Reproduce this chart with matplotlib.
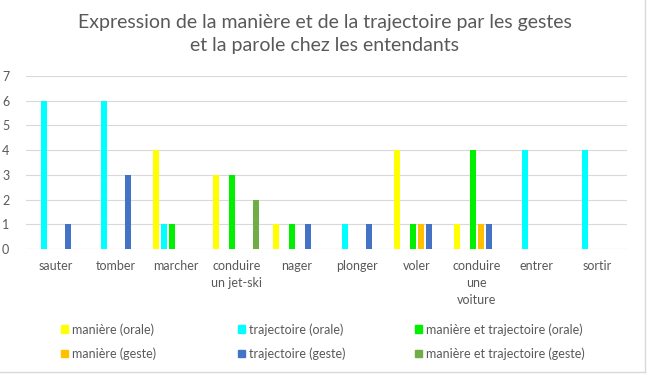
import matplotlib
matplotlib.use("Agg")
import matplotlib.pyplot as plt
from matplotlib.patches import Patch
from matplotlib.lines import Line2D
import numpy as np

plt.rcParams['font.family'] = ['Lato', 'DejaVu Sans']

# Données
categories = ["sauter", "tomber", "marcher", "conduire\nun jet-ski", "nager",
              "plonger", "voler", "conduire\nune\nvoiture", "entrer", "sortir"]
series_names = ["manière (orale)", "trajectoire (orale)",
                "manière et trajectoire (orale)", "manière (geste)",
                "trajectoire (geste)", "manière et trajectoire (geste)"]
maniere_orale = [0, 0, 4, 3, 1, 0, 4, 1, 0, 0]
trajectoire_orale = [6, 6, 1, 0, 0, 1, 0, 0, 4, 4]
mt_orale = [0, 0, 1, 3, 1, 0, 1, 4, 0, 0]
maniere_geste = [0, 0, 0, 0, 0, 0, 1, 1, 0, 0]
trajectoire_geste = [1, 3, 0, 0, 1, 1, 1, 1, 0, 0]
mt_geste = [0, 0, 0, 2, 0, 0, 0, 0, 0, 0]
colors = ["#FFFF00", "#00FFFF", "#00F000", "#FFC000", "#4472C4", "#70AD47"]

all_series = [maniere_orale, trajectoire_orale, mt_orale,
              maniere_geste, trajectoire_geste, mt_geste]

fig = plt.figure(figsize=(6.49, 3.75), dpi=100)
ax = fig.add_axes([26 / 649, 126 / 375, 601 / 649, 173 / 375])

x = np.arange(len(categories))
slot = 8 / 60
for i, (vals, c) in enumerate(zip(all_series, colors)):
    ax.bar(x + (i - 2.5) * slot, vals, width=6 / 60, color=c, zorder=3)

ax.set_xlim(-0.5, len(categories) - 0.5)
ax.set_ylim(0, 7)
ax.set_yticks(range(8))
ax.grid(axis="y", color="#D9D9D9", linewidth=0.8, zorder=0)
for s in ax.spines.values():
    s.set_visible(False)
ax.axhline(0, color="#D9D9D9", linewidth=0.8, zorder=1)
ax.set_xticks(x)
ax.set_xticklabels(categories, fontsize=9, color="#595959", linespacing=1.5, va="top")
ax.tick_params(axis="both", length=0, labelsize=9, labelcolor="#595959")
ax.tick_params(axis="x", pad=8)
ax.tick_params(axis="y", pad=12)

fig.text(0.5, 1 - 34 / 375, "Expression de la manière et de la trajectoire par les gestes\net la parole chez les entendants",
         ha="center", va="center", fontsize=14, color="#595959", linespacing=1.4)

# légende en trois colonnes
col_x = [61, 238, 415]
for k in range(3):
    handles = [Patch(color=colors[k]), Patch(color=colors[k + 3])]
    labels = [series_names[k], series_names[k + 3]]
    fig.legend(handles, labels, loc="upper left",
               bbox_to_anchor=(col_x[k] / 649, 1 - 323 / 375),
               frameon=False, fontsize=9, labelcolor="#595959",
               handlelength=0.55, handleheight=0.55, handletextpad=0.35,
               labelspacing=0.95, borderpad=0, borderaxespad=0)

# cadre du graphique
fig.add_artist(Line2D([645 / 649, 645 / 649], [3 / 375, 1], color="#D9D9D9", lw=1))
fig.add_artist(Line2D([0, 645 / 649], [3 / 375, 3 / 375], color="#D9D9D9", lw=1))

fig.savefig("out.png", dpi=100)
